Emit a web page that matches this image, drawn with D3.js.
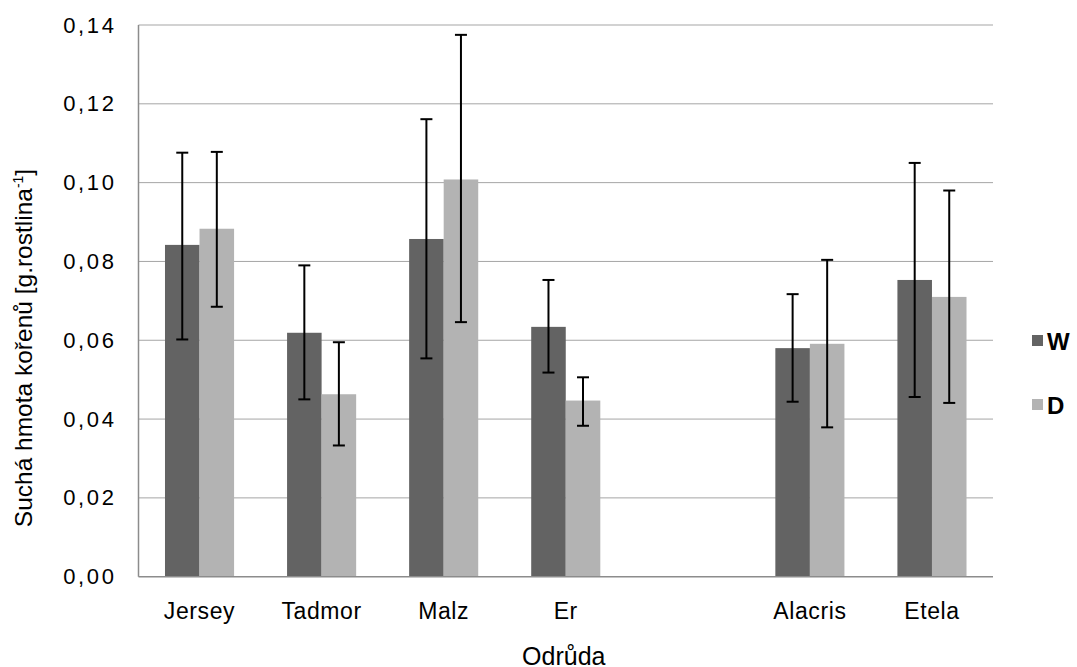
<!DOCTYPE html>
<html>
<head>
<meta charset="utf-8">
<script src="https://cdn.jsdelivr.net/npm/d3@7"></script>
<style>
  html, body { margin: 0; padding: 0; background: #fff; }
  svg { display: block; font-family: "Liberation Sans", Arial, sans-serif; }
</style>
</head>
<body>
<svg id="chart" width="1077" height="667"></svg>
<script>
// Root dry mass per cultivar, two treatments (W, D), mean with error range
const categories = ["Jersey", "Tadmor", "Malz", "Er", "", "Alacris", "Etela"];
const seriesNames = ["W", "D"];
const valuesW = [0.0842, 0.0619, 0.0857, 0.0634, null, 0.0580, 0.0753];
const valuesD = [0.0883, 0.0463, 0.1008, 0.0447, null, 0.0591, 0.0710];
const errLowW  = [0.0602, 0.0450, 0.0554, 0.0518, null, 0.0444, 0.0456];
const errHighW = [0.1076, 0.0790, 0.1161, 0.0753, null, 0.0717, 0.1050];
const errLowD  = [0.0685, 0.0333, 0.0646, 0.0383, null, 0.0379, 0.0441];
const errHighD = [0.1078, 0.0595, 0.1375, 0.0506, null, 0.0804, 0.0980];
const yTicks = [0, 0.02, 0.04, 0.06, 0.08, 0.10, 0.12, 0.14];
const yTitle = "Suchá hmota kořenů [g.rostlina";
const xTitle = "Odrůda";

const colors = { W: "#636363", D: "#b3b3b3" };

const svg = d3.select("#chart");
const plotLeft = 138.5, plotRight = 993, plotTop = 25, plotBottom = 576.7;

const slotKeys = categories.map((c, i) => "c" + i);
const x0 = d3.scaleBand().domain(slotKeys).range([plotLeft, plotRight])
  .paddingInner(0.434).paddingOuter(0.217);
const x1 = d3.scaleBand().domain(seriesNames).range([0, x0.bandwidth()]);
const y = d3.scaleLinear().domain([0, 0.14]).range([plotBottom, plotTop]);

const locale = d3.formatLocale({ decimal: ",", thousands: " ", grouping: [3], currency: ["", ""] });
const fmt = locale.format(".2f");

// horizontal gridlines
svg.append("g").selectAll("line").data(yTicks.slice(1)).join("line")
  .attr("x1", plotLeft).attr("x2", plotRight)
  .attr("y1", d => y(d)).attr("y2", d => y(d))
  .attr("stroke", "#a5a5a5").attr("stroke-width", 1);

// y axis (labels only, line drawn separately)
const yAxis = svg.append("g").attr("transform", `translate(${plotLeft},0)`)
  .call(d3.axisLeft(y).tickValues(yTicks).tickFormat(fmt).tickSize(0).tickPadding(22));
yAxis.select(".domain").remove();
yAxis.selectAll("text")
  .attr("font-family", "Liberation Sans, Arial, sans-serif")
  .attr("font-size", 22).attr("fill", "#000").attr("letter-spacing", 2.6);

// bars
const rows = categories.map((c, i) => ({
  key: slotKeys[i], name: c,
  items: [
    { s: "W", v: valuesW[i], lo: errLowW[i], hi: errHighW[i] },
    { s: "D", v: valuesD[i], lo: errLowD[i], hi: errHighD[i] }
  ]
})).filter(r => r.name !== "");

const groups = svg.append("g").selectAll("g").data(rows).join("g")
  .attr("transform", d => `translate(${x0(d.key)},0)`);

groups.selectAll("rect").data(d => d.items).join("rect")
  .attr("x", d => x1(d.s)).attr("width", x1.bandwidth())
  .attr("y", d => y(d.v)).attr("height", d => y(0) - y(d.v))
  .attr("fill", d => colors[d.s]);

// error bars
const eb = groups.selectAll("g.err").data(d => d.items).join("g").attr("class", "err")
  .attr("stroke", "#000").attr("stroke-width", 2);
eb.append("line")
  .attr("x1", d => x1(d.s) + x1.bandwidth() / 2).attr("x2", d => x1(d.s) + x1.bandwidth() / 2)
  .attr("y1", d => y(d.hi)).attr("y2", d => y(d.lo));
eb.append("line")
  .attr("x1", d => x1(d.s) + x1.bandwidth() / 2 - 6).attr("x2", d => x1(d.s) + x1.bandwidth() / 2 + 6)
  .attr("y1", d => y(d.hi)).attr("y2", d => y(d.hi));
eb.append("line")
  .attr("x1", d => x1(d.s) + x1.bandwidth() / 2 - 6).attr("x2", d => x1(d.s) + x1.bandwidth() / 2 + 6)
  .attr("y1", d => y(d.lo)).attr("y2", d => y(d.lo));

// axis lines
svg.append("line").attr("x1", plotLeft).attr("x2", plotLeft).attr("y1", plotTop).attr("y2", plotBottom)
  .attr("stroke", "#8c8c8c").attr("stroke-width", 1.5);
svg.append("line").attr("x1", plotLeft).attr("x2", plotRight).attr("y1", plotBottom).attr("y2", plotBottom)
  .attr("stroke", "#8c8c8c").attr("stroke-width", 1.5);

// category labels
const xAxis = svg.append("g").attr("transform", `translate(0,${plotBottom})`)
  .call(d3.axisBottom(x0).tickFormat((k, i) => categories[i]).tickSize(0).tickPadding(26));
xAxis.select(".domain").remove();
xAxis.selectAll("text")
  .attr("font-family", "Liberation Sans, Arial, sans-serif")
  .attr("font-size", 23).attr("fill", "#000").attr("letter-spacing", 0.6);

// axis titles
svg.append("text").attr("x", (plotLeft + plotRight) / 2 - 2).attr("y", 665)
  .attr("text-anchor", "middle").attr("font-size", 25).attr("fill", "#000")
  .text(xTitle);

const yt = svg.append("text")
  .attr("transform", "translate(32,348) rotate(-90)")
  .attr("text-anchor", "middle").attr("font-size", 24.5).attr("fill", "#000");
yt.append("tspan").text(yTitle);
yt.append("tspan").attr("dy", -9).attr("font-size", 14).text("-1");
yt.append("tspan").attr("dy", 9).text("]");

// legend
const legend = svg.append("g").selectAll("g").data(seriesNames).join("g")
  .attr("transform", (d, i) => `translate(1032,${335 + i * 64})`);
legend.append("rect").attr("width", 11).attr("height", 11).attr("fill", d => colors[d]);
legend.append("text").attr("x", 15).attr("y", 14.5)
  .attr("font-size", 24).attr("font-weight", "bold").attr("fill", "#000")
  .text(d => d);
</script>
</body>
</html>
